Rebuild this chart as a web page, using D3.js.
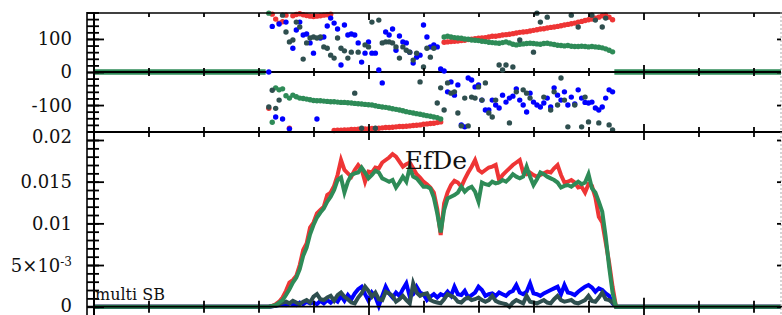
<!DOCTYPE html>
<html>
<head>
<meta charset="utf-8">
<script src="https://cdn.jsdelivr.net/npm/d3@7"></script>
<style>
body { margin: 0; background: #fff; }
svg text { font-family: "DejaVu Serif", serif; fill: #111; }
.tk line { stroke: #000; stroke-width: 1.8; }
</style>
</head>
<body>
<svg id="chart" width="782" height="315"></svg>
<script>
// samples start at freq 51/16 and step 1/16, outside that the signal is held at 0
freqFirst = 51 / 16;
freqStep = 1 / 16;
freqMin = 0;
freqMax = 12.5;

// phase (deg), top panel
redPhase = [-110,175,160,148,152,172,-170,170,174,176,
	173,171,169,168,169,170,172,173,175,-177,
	-176,-176,-175,-175,-174,-174,-173,-173,-172,-172,
	-171,-171,-170,-169,-168,-168,-167,-166,-165,-165,
	-164,-163,-162,-161,-160,-158,-157,-156,-155,-153,
	-151,90,91,92,93,94,95,96,98,99,
	101,102,103,104,106,108,108,110,112,113,
	114,116,118,120,121,122,124,126,128,130,
	131,133,135,136,138,140,142,144,146,148,
	151,153,156,158,160,163,166,170,172,166,
	158];
greenPhase = [178,-152,-48,-54,-51,-72,-79,-70,-75,-79,
	-80,-82,-84,-86,-87,-87,-88,-89,-90,-90,
	-91,-92,-92,-93,-94,-95,-96,-97,-98,-99,
	-100,-102,-104,-106,-107,-109,-111,-113,-115,-117,
	-120,-122,-124,-126,-128,-130,-132,-134,-136,-138,
	-142,106,108,106,104,103,102,100,99,97,
	96,95,93,92,90,89,88,87,89,91,
	88,84,82,84,85,86,87,86,85,84,
	86,87,85,83,81,80,79,80,78,77,
	77,78,77,76,77,76,75,73,70,66,
	61];
bluePhase = [0,138,-136,145,-142,151,-172,72,127,151,
	112,115,88,57,-142,103,106,139,163,148,
	130,21,142,112,115,112,88,30,57,91,
	57,57,6,-33,121,112,130,66,109,91,
	88,60,27,45,51,142,106,76,82,76,
	9,3,-60,-30,-70,-39,-160,-166,-18,-24,
	-45,-39,-85,-115,-115,-85,-100,-109,-70,-91,
	-79,-73,-51,-85,-100,-121,-64,-91,-100,-106,
	-94,-79,-106,-48,-70,-85,-60,-100,-76,-97,
	-54,-79,-92,-94,-91,-109,-115,-106,-79,-54,
	-60];
darkPhase = [-106,-55,-110,-85,172,121,91,97,151,136,
	39,88,103,106,103,106,76,72,51,42,
	103,72,64,42,60,-64,60,-170,82,76,
	151,-170,157,88,91,91,88,76,42,76,
	66,60,36,57,-30,15,72,45,72,-94,
	-48,-115,-33,-64,-60,-124,-163,-79,-163,-76,
	-79,-45,-85,-33,-124,-136,-85,21,6,21,
	-154,15,-60,97,-54,-64,-79,60,178,151,
	-76,166,-115,-60,-100,-18,-85,-166,172,-100,
	136,-166,-76,-151,172,157,-154,136,163,-160,
	-175];
// freq ranges where the phase sits on 0
phaseZero = [[0, 3.13], [9.47, 12.5]];

// EfDe amplitude, units of 1e-3, bottom panel
redAmp = [0,0.1,0.3,0.6,1.1,1.9,2.9,3.2,3.7,5.0,
	6.8,7.6,9.5,10.1,11.2,11.6,12.0,13.4,13.7,14.5,
	15.8,17.6,16.4,16.0,15.6,16.4,17.0,16.5,15.0,16.2,
	16.1,16.7,16.6,17.3,17.6,17.9,18.3,18.0,17.4,16.8,
	17.1,17.3,16.6,15.9,15.5,15.0,14.7,14.3,13.7,11.7,
	8.6,12.4,13.7,14.6,15.1,14.9,14.4,15.3,16.1,16.8,
	17.6,16.4,16.1,16.4,16.7,16.8,17.0,15.2,15.8,16.2,
	16.6,17.0,17.3,17.6,16.1,15.9,16.1,15.8,15.6,15.8,
	16.0,16.2,16.1,16.6,17.0,15.8,14.9,15.0,15.2,14.9,
	14.3,14.4,13.7,14.7,14.5,13.1,10.8,10.1,7.7,5.3,
	2.4,0];
greenAmp = [0,0.1,0.2,0.5,0.8,1.4,2.1,2.9,3.5,4.5,
	6.1,7.1,8.7,9.8,10.7,11.3,11.8,12.6,13.2,14.0,
	15.2,15.5,13.7,15.0,15.8,16.0,16.1,16.7,16.1,15.4,
	15.8,16.3,16.1,15.4,15.2,15.0,15.2,14.3,14.9,15.6,
	15.0,16.7,15.6,15.4,14.9,14.4,14.4,14.2,13.1,11.2,
	8.9,11.6,13.0,13.2,13.4,13.7,14.4,13.8,14.2,14.4,
	13.8,12.6,14.9,14.7,14.6,15.0,14.8,14.9,15.2,15.0,
	15.4,15.9,15.6,15.4,15.6,16.8,15.6,14.6,15.3,16.1,
	15.9,15.6,15.4,15.2,14.9,14.3,14.5,14.6,14.4,14.7,
	15.0,14.7,14.9,15.9,14.2,13.7,12.6,11.4,8.4,4.8,
	1.7,0];
blueAmp = [0,0.05,0.1,0.2,0.3,0.2,0.4,0.3,0.2,0.5,
	0.3,0.6,0.4,0.5,0.3,0.7,0.4,0.8,0.5,0.9,
	0.6,1.3,0.7,1.4,0.9,1.6,2.1,2.4,1.5,0.7,
	1.7,1.2,0.1,1.3,2.4,1.6,1.1,1.7,1.3,2.1,
	2.8,1.2,1.5,2.4,1.7,1.5,0.8,1.2,1.5,1.1,
	1.5,1.3,1.8,1.3,2.4,1.5,1.4,1.9,1.1,1.4,
	1.7,2.4,2.0,1.3,1.5,1.6,1.3,1.7,1.5,1.3,
	1.7,1.9,2.6,1.7,1.5,1.8,2.8,1.6,1.5,1.3,
	1.6,1.8,2.0,2.2,2.4,1.5,2.6,1.7,1.6,1.4,
	1.8,2.1,2.4,2.6,2.3,1.8,2.2,2.0,1.6,1.3,
	0.4,0];
darkAmp = [0,0.05,0.1,0.3,0.5,0.6,0.4,0.7,0.5,0.3,
	0.6,0.8,0.5,1.2,1.5,0.9,0.8,1.1,1.3,0.7,
	1.4,1.7,1.2,0.9,0.5,0.4,1.1,1.6,2.4,1.9,
	1.2,1.7,0.9,0.8,1.8,1.6,1.3,0.6,0.9,1.3,
	0.8,0.4,2.8,1.7,1.3,1.5,1.6,0.8,0.6,0.5,
	0.4,0.9,1.5,1.3,1.1,0.6,0.5,0.9,1.1,0.8,
	0.9,1.1,0.8,0.6,0.8,1.3,0.7,0.5,0.4,0.3,
	0.0,0.5,0.8,0.6,0.4,1.3,0.6,0.5,0.4,0.6,
	0.8,0.5,0.4,0.9,1.3,0.8,0.6,0.7,0.8,0.5,
	0.4,0.6,0.8,1.3,0.7,0.6,1.1,1.7,0.9,0.8,
	0.5,0];

phaseTicks = [-100, 0, 100];
phaseLabels = ["-100", "0", "100"];
ampTicks = [0, 5, 10, 15, 20];
ampLabels = ["0", "5×10|-3", "0.01", "0.015", "0.02"];
freqTicks = d3.range(0, 13, 1);
freqMajor = [0, 5, 10];

colors = {red: "#ee3535", green: "#2e8b57", blue: "#0000ff", dark: "#2f4f4f"};

var svg = d3.select("#chart");

var x = d3.scaleLinear().domain([freqMin, freqMax]).range([93.5, 781]);
var yPh = d3.scaleLinear().domain([-180, 180]).range([131.5, 12.5]);
var yAmp = d3.scaleLinear().domain([0, 20]).range([306.7, 140]);

function freqOf(i){ return freqFirst + i * freqStep; }

// ---- top panel: phase dots
svg.append("g").selectAll("path")
	.data(phaseZero)
	.enter().append("path")
		.attr("d", d => d3.line()([[x(d[0]), yPh(0)], [x(d[1]), yPh(0)]]))
		.attr("stroke", colors.green)
		.attr("stroke-width", 5.4)
		.attr("fill", "none");

// black zero axis under the dots (only visible where phase is off 0)
svg.append("line")
	.attr("x1", x(freqMin)).attr("x2", x(freqMax))
	.attr("y1", yPh(0)).attr("y2", yPh(0))
	.attr("stroke", "#000").attr("stroke-width", 1.8);

[["red", redPhase], ["green", greenPhase], ["blue", bluePhase], ["dark", darkPhase]].forEach(function(s){
	svg.append("g").selectAll("circle")
		.data(s[1])
		.enter().append("circle")
			.attr("cx", (d, i) => x(freqOf(i)))
			.attr("cy", d => yPh(d))
			.attr("r", 2.7)
			.attr("fill", colors[s[0]]);
});

// ---- bottom panel: amplitude lines
var line = d3.line()
	.x(d => x(d[0]))
	.y(d => yAmp(d[1]));

[["red", redAmp], ["blue", blueAmp], ["dark", darkAmp], ["green", greenAmp]].forEach(function(s){
	var pts = [[freqMin, 0]];
	for (var i = 0; i < s[1].length; ++i){
		pts.push([freqOf(i), s[1][i]]);
	}
	pts.push([freqMax, 0]);
	svg.append("path")
		.attr("d", line(pts))
		.attr("stroke", colors[s[0]])
		.attr("stroke-width", 4)
		.attr("fill", "none");
});

// ---- frame
function hline(y, w){
	svg.append("line").attr("x1", 87).attr("x2", 782).attr("y1", y).attr("y2", y)
		.attr("stroke", "#000").attr("stroke-width", w);
}
hline(yPh(180) + 0.5, 1.6);
hline(132, 2);
hline(yAmp(0), 1.8);

svg.append("line").attr("x1", 94).attr("x2", 94).attr("y1", 12).attr("y2", 315)
	.attr("stroke", "#000").attr("stroke-width", 2);
svg.append("line").attr("x1", 87).attr("x2", 87).attr("y1", 12).attr("y2", 315)
	.attr("stroke", "#000").attr("stroke-width", 1.6);
svg.append("line").attr("x1", 781).attr("x2", 781).attr("y1", 12).attr("y2", 315)
	.attr("stroke", "#aaa").attr("stroke-width", 1).attr("stroke-dasharray", "2,2");

// x ticks (no labels)
function xTicks(y, up, down, values){
	if (up > 0){
		svg.append("g").attr("class", "tk").attr("transform", "translate(0," + y + ")")
			.call(d3.axisTop(x).tickValues(values).tickSize(up).tickFormat(""))
			.call(g => g.select(".domain").remove());
	}
	if (down > 0){
		svg.append("g").attr("class", "tk").attr("transform", "translate(0," + y + ")")
			.call(d3.axisBottom(x).tickValues(values).tickSize(down).tickFormat(""))
			.call(g => g.select(".domain").remove());
	}
}
var minorFreq = freqTicks.filter(v => freqMajor.indexOf(v) < 0);
xTicks(yPh(180) + 0.5, 0, 4, minorFreq);
xTicks(yPh(180) + 0.5, 0, 7, freqMajor);
xTicks(yPh(0), 4, 4, minorFreq);
xTicks(yPh(0), 7, 7, freqMajor);
xTicks(132, 5, 5, minorFreq);
xTicks(132, 8, 8, freqMajor);
xTicks(yAmp(0), 6, 6, minorFreq);
xTicks(yAmp(0), 9, 9, freqMajor);

// y ticks
function yTicks(scale, values, size){
	svg.append("g").attr("class", "tk").attr("transform", "translate(87,0)")
		.call(d3.axisRight(scale).tickValues(values).tickSize(size).tickFormat(""))
		.call(g => g.select(".domain").remove());
	svg.append("g").attr("class", "tk").attr("transform", "translate(781,0)")
		.call(d3.axisLeft(scale).tickValues(values).tickSize(size > 14 ? 4 : 0).tickFormat(""))
		.call(g => g.select(".domain").remove())
		.selectAll("line").attr("stroke", "#999").attr("stroke-width", 1);
}
yTicks(yPh, d3.range(-180, 181, 20), 12);
yTicks(yPh, phaseTicks, 17);
yTicks(yAmp, d3.range(0, 21, 1), 12);
yTicks(yAmp, ampTicks, 17);

// y labels
svg.append("g").selectAll("text")
	.data(phaseTicks)
	.enter().append("text")
		.attr("x", 72)
		.attr("y", d => yPh(d))
		.attr("dy", "0.36em")
		.attr("text-anchor", "end")
		.attr("font-size", 18)
		.text((d, i) => phaseLabels[i]);

svg.append("g").selectAll("text")
	.data(ampTicks)
	.enter().append("text")
		.attr("x", 72)
		.attr("y", d => yAmp(d) - (d == 20 ? 3 : 0) - (d == 0 ? 1 : 0))
		.attr("dy", "0.36em")
		.attr("text-anchor", "end")
		.attr("font-size", 18)
		.each(function(d, i){
			var parts = ampLabels[i].split("|");
			var t = d3.select(this);
			t.append("tspan").text(parts[0]);
			if (parts.length > 1){
				t.append("tspan").attr("dy", "-0.5em").attr("font-size", 12).text(parts[1]);
			}
		});

svg.append("text").attr("x", 436).attr("y", 169)
	.attr("text-anchor", "middle").attr("font-size", 25).text("EfDe");
svg.append("text").attr("x", 95).attr("y", 300)
	.attr("font-size", 16).text("multi SB");
</script>
</body>
</html>
